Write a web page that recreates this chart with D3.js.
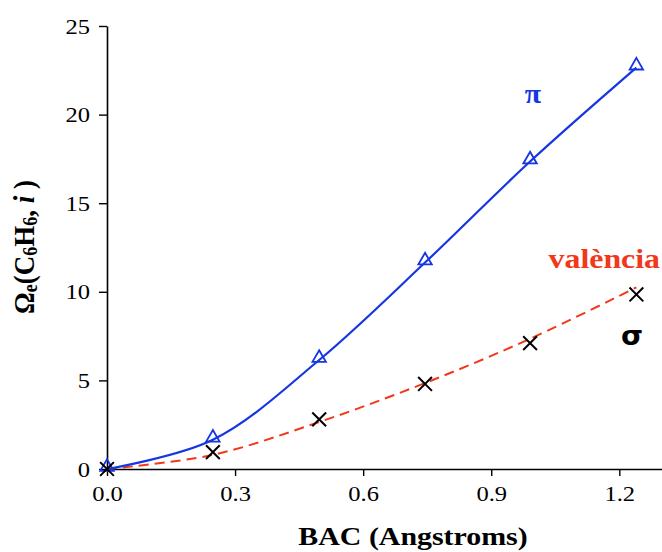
<!DOCTYPE html>
<html>
<head>
<meta charset="utf-8">
<script src="https://cdn.jsdelivr.net/npm/d3@7"></script>
<style>
  html, body { margin: 0; padding: 0; background: #fff; }
  svg { display: block; }
  text { font-family: "Liberation Serif", "Times New Roman", serif; }
</style>
</head>
<body>
<svg id="chart" width="662" height="552"></svg>
<script>
// BAC distance (Angstroms)
const bac = [0, 0.248, 0.497, 0.745, 0.991, 1.24];
// pi contribution (triangles, solid blue curve)
const piValues = [0, 1.65, 6.15, 11.65, 17.35, 22.65];
// sigma contribution (crosses)
const sigmaValues = [0, 0.95, 2.8, 4.8, 7.1, 9.85];
// valence curve (dashed red)
const valenceValues = [0, 0.8, 2.65, 4.85, 7.35, 10.25];
const xTicks = [0.0, 0.3, 0.6, 0.9, 1.2];
const yTicks = [0, 5, 10, 15, 20, 25];

const blue = "#1636e2";
const red = "#f2371a";
const serif = "'Liberation Serif', 'Times New Roman', serif";

const svg = d3.select("#chart");
const x = d3.scaleLinear().domain([0, 1.3]).range([107, 662]);
const y = d3.scaleLinear().domain([0, 25]).range([469, 26]);

// axes
const xAxis = svg.append("g")
  .attr("transform", `translate(0,${y(0)})`)
  .call(d3.axisBottom(x).tickValues(xTicks).tickFormat(d3.format(".1f")).tickSize(7).tickSizeOuter(0));
const yAxis = svg.append("g")
  .attr("transform", `translate(${x(0)},0)`)
  .call(d3.axisLeft(y).tickValues(yTicks).tickFormat(d3.format("d")).tickSize(8).tickSizeOuter(0));

[xAxis, yAxis].forEach(g => {
  g.attr("font-family", serif).attr("font-size", 21);
  g.select(".domain").attr("stroke", "#000").attr("stroke-width", 1.6);
  g.selectAll(".tick line").attr("stroke", "#000").attr("stroke-width", 1.4);
  g.selectAll(".tick text").attr("fill", "#000").attr("transform", "scale(1.17,1)");
});
xAxis.selectAll(".tick text").attr("y", 17).attr("dy", "0.71em");
yAxis.selectAll(".tick text").attr("x", -14.5).attr("dy", "0.34em");

// curves
const line = (vals) => d3.line()
  .x((d, i) => x(bac[i]))
  .y(d => y(d))
  .curve(d3.curveCatmullRom.alpha(0.5))(vals);

svg.append("path")
  .attr("d", line(valenceValues))
  .attr("fill", "none")
  .attr("stroke", red)
  .attr("stroke-width", 2)
  .attr("stroke-dasharray", "10,6");

svg.append("path")
  .attr("d", line(piValues))
  .attr("fill", "none")
  .attr("stroke", blue)
  .attr("stroke-width", 2.2);

// triangle markers
const tri = d3.symbol().type(d3.symbolTriangle).size(78);
svg.append("g").selectAll("path")
  .data(piValues)
  .join("path")
  .attr("d", tri)
  .attr("transform", (d, i) => `translate(${x(bac[i])},${y(d) - 2})`)
  .attr("fill", "none")
  .attr("stroke", blue)
  .attr("stroke-width", 1.8);

// cross markers
const crossType = {
  draw(ctx, size) {
    const r = Math.sqrt(size) / 2;
    ctx.moveTo(-r, -r); ctx.lineTo(r, r);
    ctx.moveTo(r, -r); ctx.lineTo(-r, r);
  }
};
const cross = d3.symbol().type(crossType).size(190);
svg.append("g").selectAll("path")
  .data(sigmaValues)
  .join("path")
  .attr("d", cross)
  .attr("transform", (d, i) => `translate(${x(bac[i])},${y(d)})`)
  .attr("fill", "none")
  .attr("stroke", "#000")
  .attr("stroke-width", 2);

// horizontally widened text helper
function label(px, py, txt, opts) {
  const g = svg.append("g").attr("transform", `translate(${px},${py}) scale(${opts.sx || 1},1)`);
  return g.append("text")
    .attr("text-anchor", opts.anchor || "middle")
    .attr("fill", opts.fill || "#000")
    .style("font-family", opts.family || serif)
    .style("font-size", opts.size + "px")
    .style("font-weight", "bold")
    .text(txt);
}

// curve labels
label(533, 103, "π", { fill: blue, size: 27, sx: 1.1 });
label(660, 268, "valència", { fill: red, anchor: "end", size: 27, sx: 1.18 });
label(632, 345, "σ", { size: 27, family: "'DejaVu Sans', sans-serif", sx: 1.05 });

// axis titles
label(413, 545, "BAC (Angstroms)", { size: 26, sx: 1.15 });

const yt = svg.append("text")
  .attr("transform", "translate(34,247) scale(1.12,1) rotate(-90)")
  .attr("text-anchor", "middle").attr("fill", "#000")
  .style("font-size", "27px").style("font-weight", "bold");
yt.append("tspan").text("Ω");
yt.append("tspan").attr("dy", 3).style("font-size", "18px").text("e");
yt.append("tspan").attr("dy", -3).text("(C");
yt.append("tspan").attr("dy", 3).style("font-size", "18px").text("6");
yt.append("tspan").attr("dy", -3).text("H");
yt.append("tspan").attr("dy", 3).style("font-size", "18px").text("6");
yt.append("tspan").attr("dy", -3).text(", ");
yt.append("tspan").style("font-style", "italic").text("i");
yt.append("tspan").text(" )");
</script>
</body>
</html>
